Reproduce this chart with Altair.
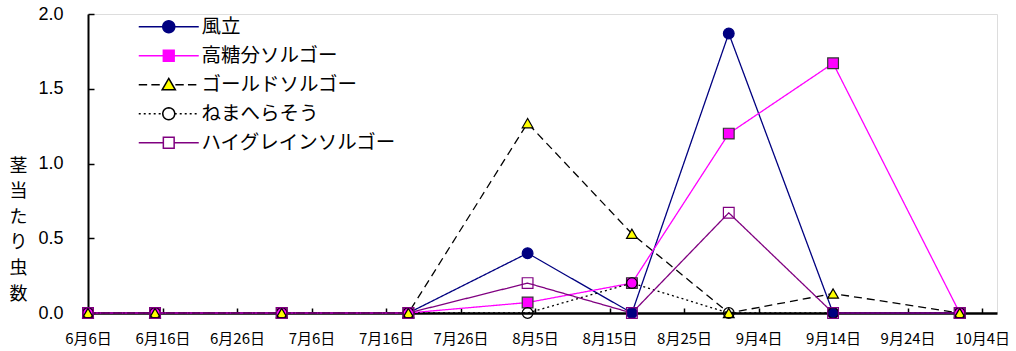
import math
import altair as alt
import pandas as pd

# ---------------- data ----------------
dates = ["2010-06-06", "2010-06-15", "2010-07-02", "2010-07-19", "2010-08-04",
         "2010-08-18", "2010-08-31", "2010-09-14", "2010-10-01"]
series_names = ["風立", "高糖分ソルゴー", "ゴールドソルゴー", "ねまへらそう", "ハイグレインソルゴー"]
fuuritsu = [0, 0, 0, 0, 0.40, 0, 1.87, 0, 0]
koutoubun = [0, 0, 0, 0, 0.07, 0.20, 1.20, 1.67, 0]
gold = [0, 0, 0, 0, 1.27, 0.53, 0, 0.13, 0]
nemahera = [0, 0, 0, 0, 0, 0.20, 0, 0, 0]
highgrain = [0, 0, 0, 0, 0.20, 0, 0.67, 0, 0]
y_ticks = [0, 0.5, 1.0, 1.5, 2.0]
x_tick_md = [(6, 6), (6, 16), (6, 26), (7, 6), (7, 16), (7, 26), (8, 5), (8, 15),
             (8, 25), (9, 4), (9, 14), (9, 24), (10, 4)]
y_title = "茎当たり虫数"

rows = []
for name, vals in zip(series_names, [fuuritsu, koutoubun, gold, nemahera, highgrain]):
    for d, v in zip(dates, vals):
        rows.append({"series": name, "date": d, "value": v})
df = pd.DataFrame(rows)

# ---------------- styles ----------------
line_colors = ["#000080", "#FF00FF", "#000000", "#000000", "#800080"]
line_dashes = [[1, 0], [1, 0], [8, 5], [2, 3], [1, 0]]
line_widths = [1.3, 1.3, 2.0, 2.0, 1.3]
pt_shapes = ["circle", "square", "triangle-up", "circle", "square"]
pt_fills = ["#000080", "#FF00FF", "#FFFF00", "transparent", "transparent"]
pt_strokes = ["#000080", "#333333", "#000000", "#000000", "#800080"]
leg_fills = ["#000080", "#FF00FF", "#FFFF00", "#FFFFFF", "#FFFFFF"]


def segs(a, b, on, off):
    out, x = [], a
    while x < b - 1e-6:
        e = min(x + on, b)
        out.append(f"M{x:.2f},0H{e:.2f}")
        x = e + off
    return "".join(out)


def circ(r=1.0, n=28):
    pts = [(r * math.cos(2 * math.pi * i / n), r * math.sin(2 * math.pi * i / n)) for i in range(n)]
    return "M" + "L".join(f"{x:.3f},{y:.3f}" for x, y in pts) + "Z"


sq = "M-0.9,-0.9H0.9V0.9H-0.9Z"
tri = "M0,-1.05L1.1,0.85H-1.1Z"
L = 5.0
leg_paths = [
    segs(-L, -1, 10, 0) + segs(1, L, 10, 0) + circ(1.0),
    segs(-L, -0.9, 10, 0) + segs(0.9, L, 10, 0) + sq,
    segs(-L, -1.1, 1.4, 0.7) + segs(1.1, L, 1.4, 0.7) + tri,
    segs(-L, -1, 0.33, 0.5) + segs(1, L, 0.33, 0.5) + circ(1.0),
    segs(-L, -0.9, 10, 0) + segs(0.9, L, 10, 0) + sq,
]

x_vals = [alt.DateTime(year=2010, month=m, date=d, utc=True) for m, d in x_tick_md]
x_dom = [alt.DateTime(year=2010, month=6, date=6, utc=True),
         alt.DateTime(year=2010, month=10, date=6, utc=True)]

jp = "Noto Sans CJK JP"

x_enc = alt.X(
    "date:T",
    scale=alt.Scale(type="utc", domain=x_dom),
    axis=alt.Axis(values=x_vals, title=None,
                  labelExpr="(utcmonth(datum.value) + 1) + '月' + utcdate(datum.value) + '日'",
                  labelFont=jp, labelFontSize=15, labelColor="black",
                  tickColor="black", tickWidth=1.5, tickSize={"expr": "-5"},
                  domainColor="black", domainWidth=2.5, labelPadding=23,
                  grid=False, labelOverlap=False, labelFlush=False),
)
y_enc = alt.Y(
    "value:Q",
    scale=alt.Scale(domain=[0, 2], nice=False, zero=True),
    axis=alt.Axis(values=y_ticks, format=".1f", title=list(y_title),
                  labelFont="Liberation Sans", labelFontSize=18, labelColor="black",
                  tickColor="black", tickWidth=1.5, tickSize={"expr": "-6"},
                  labelPadding=31, domainColor="black", domainWidth=2, grid=False,
                  titleAngle=0, titleX=-70, titleY=152, titleAlign="center",
                  titleBaseline="middle", titleFont=jp, titleFontSize=18,
                  titleFontWeight="normal", titleLineHeight=25.6, titleColor="black"),
)

base = alt.Chart(df)

lines = base.mark_line().encode(
    x=x_enc, y=y_enc,
    color=alt.Color("series:N", scale=alt.Scale(domain=series_names, range=line_colors), legend=None),
    strokeDash=alt.StrokeDash("series:N", scale=alt.Scale(domain=series_names, range=line_dashes), legend=None),
    strokeWidth=alt.StrokeWidth("series:N", scale=alt.Scale(domain=series_names, range=line_widths), legend=None),
    detail="series:N",
)

points = base.mark_point(opacity=1, strokeWidth=1.2, size=115).encode(
    x=x_enc, y=y_enc,
    shape=alt.Shape("series:N", scale=alt.Scale(domain=series_names, range=pt_shapes), legend=None),
    fill=alt.Fill("series:N", scale=alt.Scale(domain=series_names, range=pt_fills), legend=None),
    stroke=alt.Stroke("series:N", scale=alt.Scale(domain=series_names, range=pt_strokes), legend=None),
)

legend_cfg = alt.Legend(
    title=None, orient="none", legendX=71, legendY=3, labelFont=jp, labelFontSize=19.5,
    labelColor="black", symbolSize=144, symbolStrokeWidth=1.5, labelOffset=23,
    rowPadding=8, labelLimit=0, padding=0,
)
legend_layer = base.mark_point(opacity=1).encode(
    shape=alt.Shape("series:N", scale=alt.Scale(domain=series_names, range=leg_paths), legend=legend_cfg),
    fill=alt.Fill("series:N", scale=alt.Scale(domain=series_names, range=leg_fills), legend=legend_cfg),
    stroke=alt.Stroke("series:N", scale=alt.Scale(domain=series_names, range=line_colors), legend=legend_cfg),
).transform_filter("false")

chart = alt.layer(lines, points, legend_layer).resolve_scale(
    shape="independent", fill="independent", stroke="independent"
).properties(
    width=909, height=299,
    padding={"left": 88, "top": 14, "right": 19, "bottom": 38},
    autosize=alt.AutoSizeParams(type="none"),
).configure_view(stroke=None).configure(background="white")

chart.save("out.html", embed_options={"renderer": "svg", "actions": False})
